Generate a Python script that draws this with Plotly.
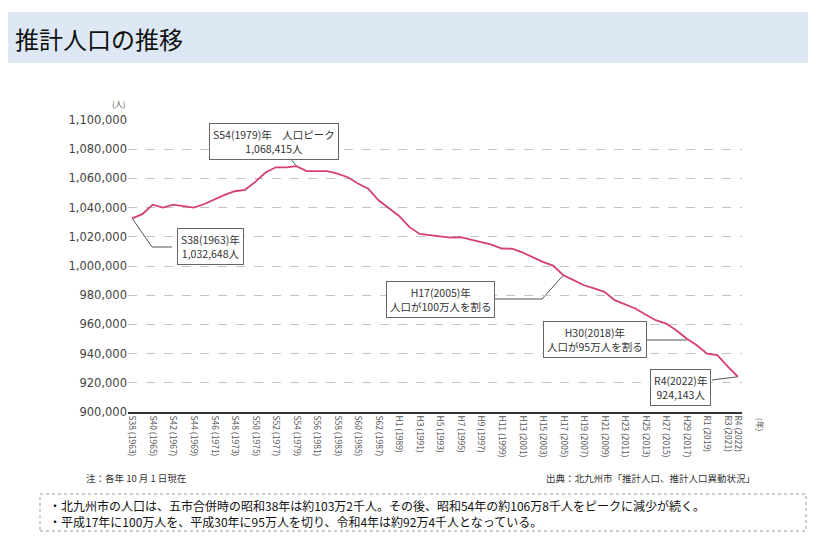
import plotly.graph_objects as go

# ---- data ----
years = list(range(1963, 2023))
population = [
    1032648, 1035500, 1042000, 1040000, 1042000, 1041000, 1040000, 1042300,
    1045500, 1048700, 1051200, 1052200, 1057600, 1064000, 1067600, 1067600,
    1068415, 1065000, 1065000, 1065000, 1063300, 1060800, 1056500, 1053000,
    1045000, 1039800, 1034300, 1026800, 1022000, 1021100, 1020200, 1019500,
    1019700, 1018100, 1016800, 1014700, 1012000, 1011800, 1009400, 1006200,
    1002800, 1000300, 993700, 990300, 986800, 984600, 982300, 976600,
    973800, 970900, 966800, 962900, 960600, 956000, 950300, 945700,
    940000, 938900, 931300, 924143,
]
tick_years = list(range(1963, 2020, 2)) + [2021, 2022]
tick_labels = [
    "S38 (1963)", "S40 (1965)", "S42 (1967)", "S44 (1969)", "S46 (1971)",
    "S48 (1973)", "S50 (1975)", "S52 (1977)", "S54 (1979)", "S56 (1981)",
    "S58 (1983)", "S60 (1985)", "S62 (1987)", "H1 (1989)", "H3 (1991)",
    "H5 (1993)", "H7 (1995)", "H9 (1997)", "H11 (1999)", "H13 (2001)",
    "H15 (2003)", "H17 (2005)", "H19 (2007)", "H21 (2009)", "H23 (2011)",
    "H25 (2013)", "H27 (2015)", "H29 (2017)", "R1 (2019)", "R3 (2021)",
    "R4 (2022)",
]
y_ticks = list(range(900000, 1100001, 20000))
y_labels = [f"{v:,}" for v in y_ticks]

# ---- geometry helpers (screen pixel -> paper / data) ----
OFF = 8                      # page body margin
W, H = 816 - OFF, 539 - OFF  # figure size that fits the window
L, R, T, B = 128, 742, 120, 412   # plot area in screen pixels
X0, X1 = 1962.6, 2022.4
Y0, Y1 = 900000, 1100000


def pxp(px):
    return (px - L) / (R - L)


def pyp(py):
    return (B - py) / (B - T)


def px2x(px):
    return X0 + (px - L) / (R - L) * (X1 - X0)


def py2y(py):
    return Y0 + (B - py) / (B - T) * (Y1 - Y0)


FONT = "Noto Sans CJK JP, Noto Sans, sans-serif"
LINE_C = "#d6406f"

fig = go.Figure()
fig.add_trace(go.Scatter(
    x=years, y=population, mode="lines",
    line=dict(color=LINE_C, width=1.8),
    hoverinfo="x+y", showlegend=False,
))

shapes = []
annotations = []

# title band
shapes.append(dict(type="rect", xref="paper", yref="paper",
                   x0=pxp(7), x1=pxp(830), y0=pyp(63), y1=pyp(12),
                   fillcolor="#dde8f4", line=dict(width=0), layer="below"))
annotations.append(dict(text="推計人口の推移", xref="paper", yref="paper",
                        x=pxp(13), y=pyp(38), xanchor="left", yanchor="middle",
                        showarrow=False, font=dict(family=FONT, size=24, color="#111")))

# unit labels
annotations.append(dict(text="(人)", xref="paper", yref="paper",
                        x=pxp(118), y=pyp(103), xanchor="center", yanchor="middle",
                        showarrow=False, font=dict(family=FONT, size=8, color="#555")))
annotations.append(dict(text="(年)", xref="paper", yref="paper",
                        x=pxp(761), y=pyp(424), xanchor="center", yanchor="middle",
                        textangle=90, showarrow=False,
                        font=dict(family=FONT, size=8, color="#555")))

# callout boxes
box_font = dict(family=FONT, size=10.5, color="#333")


def box(text, cx, cy):
    annotations.append(dict(text=text, xref="paper", yref="paper",
                            x=pxp(cx), y=pyp(cy), xanchor="center", yanchor="middle",
                            showarrow=False, font=box_font, bgcolor="white",
                            bordercolor="#666", borderwidth=1, borderpad=3,
                            align="center"))


def leader(points):
    path = "M " + " L ".join(f"{x},{y}" for x, y in points)
    shapes.append(dict(type="path", xref="x", yref="y", path=path,
                       line=dict(color="#555", width=1), layer="below"))


i63 = years.index(1963)
i79 = years.index(1979)
i05 = years.index(2005)
i22 = years.index(2022)

leader([(years[i63], population[i63]), (px2x(152), py2y(247)), (px2x(172), py2y(247))])
box("S38(1963)年<br>1,032,648人", 210, 246)

leader([(px2x(287), py2y(154)), (years[i79], population[i79])])
box("S54(1979)年　人口ピーク<br>1,068,415人", 274, 141)

leader([(px2x(494), py2y(299)), (px2x(542), py2y(299)), (years[i05], population[i05])])
box("H17(2005)年<br>人口が100万人を割る", 440, 299)

leader([(px2x(646), py2y(340)), (px2x(687), py2y(340))])
box("H30(2018)年<br>人口が95万人を割る", 595, 339)

leader([(px2x(712), py2y(380)), (years[i22], population[i22])])
box("R4(2022)年<br>924,143人", 680, 387)

# notes
annotations.append(dict(text="注：各年 10 月 1 日現在", xref="paper", yref="paper",
                        x=pxp(84), y=pyp(478), xanchor="left", yanchor="middle",
                        showarrow=False, font=dict(family=FONT, size=9.5, color="#333")))
annotations.append(dict(text="出典：北九州市「推計人口、推計人口異動状況」", xref="paper", yref="paper",
                        x=pxp(757), y=pyp(478), xanchor="right", yanchor="middle",
                        showarrow=False, font=dict(family=FONT, size=9.5, color="#333")))

# summary box
shapes.append(dict(type="rect", xref="paper", yref="paper",
                   x0=pxp(40), x1=pxp(806), y0=pyp(531), y1=pyp(494),
                   line=dict(color="#999", width=1, dash="dot"), fillcolor="rgba(0,0,0,0)"))
annotations.append(dict(
    text="・北九州市の人口は、五市合併時の昭和38年は約103万2千人。その後、昭和54年の約106万8千人をピークに減少が続く。"
         "<br>・平成17年に100万人を、平成30年に95万人を切り、令和4年は約92万4千人となっている。",
    xref="paper", yref="paper", x=pxp(47), y=pyp(513), xanchor="left", yanchor="middle",
    align="left", showarrow=False, font=dict(family=FONT, size=12, color="#111")))

fig.update_layout(
    width=W, height=H,
    margin=dict(l=L - OFF, r=W - (R - OFF), t=T - OFF, b=H - (B - OFF)),
    paper_bgcolor="white", plot_bgcolor="white",
    shapes=shapes, annotations=annotations,
    xaxis=dict(range=[X0, X1], tickmode="array", tickvals=tick_years, ticktext=tick_labels,
               tickangle=90, showgrid=False, zeroline=False,
               showline=True, linecolor="#333", linewidth=1.5,
               ticks="", tickfont=dict(family=FONT, size=8.5, color="#555"),
               fixedrange=True),
    yaxis=dict(range=[Y0, Y1], tickmode="array", tickvals=y_ticks, ticktext=y_labels,
               showgrid=True, gridcolor="#c4c4c4", griddash="dash", gridwidth=1,
               zeroline=False, showline=False, ticks="",
               tickfont=dict(family="DejaVu Sans, Verdana, sans-serif", size=11.5, color="#444"),
               fixedrange=True),
)

fig.write_html("out.html")
